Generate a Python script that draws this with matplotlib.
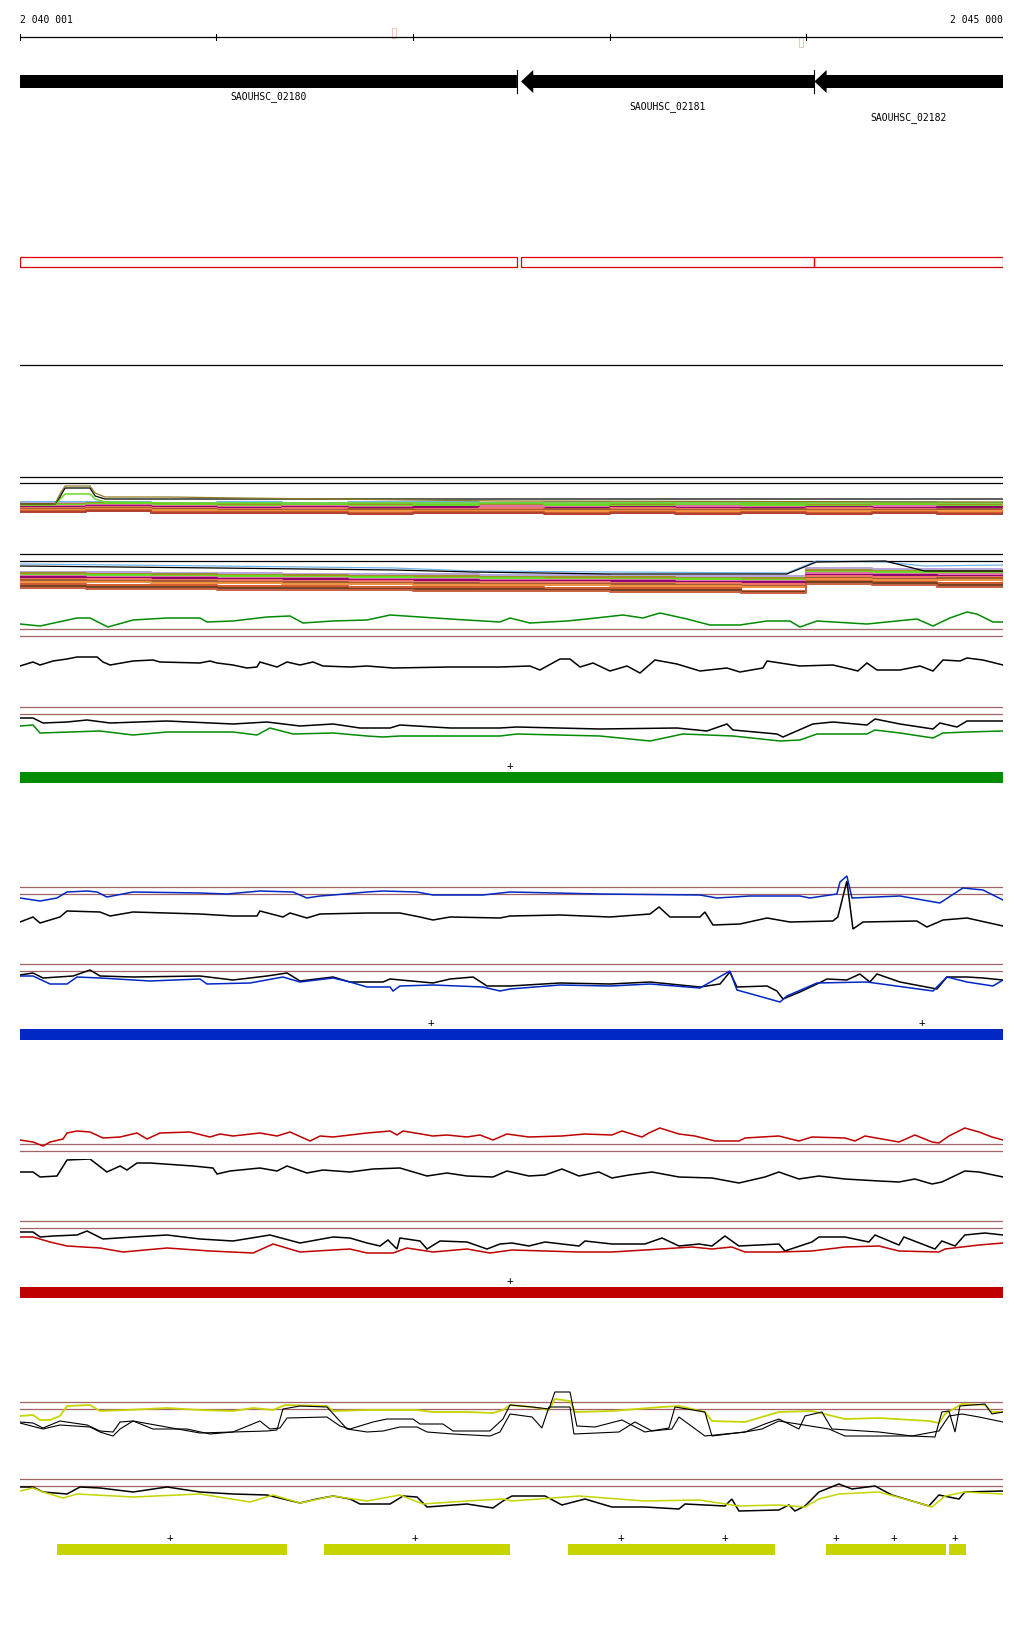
import numpy as np
import matplotlib.pyplot as plt
from matplotlib.patches import Polygon, Rectangle

# window shown (positions below are bp offsets from START)
START = 2040001
END = 2045000
SPAN = END - START

genes = ['SAOUHSC_02180', 'SAOUHSC_02181', 'SAOUHSC_02182']
gene_start = [-600, 2548, 4040]
gene_end = [2527, 4038, 5600]
tss_pos = [1902, 3974]
tss_strand = ['+', '-']

# --- multicolour tracks (step profiles on a coarse grid) ---
mc_pos = np.linspace(0, SPAN, 16)

a_bump_pos = [0, 178, 203, 229, 356, 382, 432, 763, 1119, 2441, 4999]
a_bump_olive = [15, 15, 25, 33, 33, 26, 22, 22, 21, 18, 17]
a_bump_black = [15, 15, 22, 31, 31, 23, 20, 20, 20, 20, 20]
a_bump_green = [14, 14, 20, 25, 25, 20, 17, 16, 16, 16, 16]

a_lightblue = [17, 17, 16, 17, 16, 17, 17, 16, 17, 16, 17, 16, 17, 17, 16, 17]
a_lavender = [16, 15, 16, 15, 15, 16, 15, 15, 16, 15, 16, 15, 16, 15, 16, 15]
a_olive = [15, 16, 15, 15, 14, 15, 14, 15, 14, 15, 14, 15, 14, 15, 14, 15]
a_green = [14, 15, 14, 13, 14, 13, 14, 13, 14, 13, 14, 14, 13, 14, 13, 14]
a_pink = [13, 14, 13, 12, 13, 12, 12, 13, 12, 12, 13, 12, 12, 13, 12, 13]
a_purple = [12, 13, 12, 11, 12, 11, 12, 11, 11, 12, 11, 11, 12, 11, 12, 11]
a_salmon = [11, 12, 11, 10, 11, 10, 10, 11, 10, 11, 10, 10, 11, 10, 10, 11]
a_brown = [10, 11, 10, 9, 9, 10, 9, 9, 10, 9, 9, 10, 9, 9, 10, 9]
a_orange = [9, 10, 9, 8, 8, 8, 8, 8, 8, 8, 8, 8, 8, 8, 8, 9]
a_rust = [8, 9, 7, 7, 7, 6, 7, 7, 6, 7, 6, 7, 6, 7, 6, 7]
a_darkred = [7, 8, 6, 6, 6, 5, 6, 6, 5, 6, 5, 6, 5, 6, 5, 6]

b_top_pos = [0, 1000, 1900, 2300, 3000, 3900, 4050, 4400, 4600, 4999]
b_lightblue = [35, 33, 31, 28, 27, 26, 38, 37, 33, 34]
b_black = [33, 31, 29, 27, 25, 25, 37, 38, 28, 28]
b_lavender = [27, 27, 26, 26, 25, 25, 25, 24, 24, 23, 23, 23, 31, 30, 30, 29]
b_olive = [26, 25, 25, 24, 24, 23, 23, 22, 22, 22, 21, 21, 29, 28, 28, 27]
b_green = [24, 24, 23, 23, 22, 22, 21, 21, 20, 20, 20, 19, 27, 27, 26, 26]
b_pink = [23, 22, 22, 21, 21, 20, 20, 19, 19, 19, 18, 18, 26, 25, 25, 24]
b_purple = [22, 21, 21, 20, 20, 19, 19, 18, 18, 18, 17, 17, 24, 24, 23, 23]
b_salmon = [20, 20, 19, 19, 18, 18, 17, 17, 17, 16, 16, 15, 23, 22, 22, 21]
b_brown = [19, 18, 18, 17, 17, 16, 16, 15, 15, 15, 14, 13, 21, 20, 21, 20]
b_orange = [17, 17, 16, 16, 15, 15, 14, 14, 14, 13, 13, 12, 20, 19, 19, 18]
b_rust = [15, 14, 14, 13, 13, 12, 12, 12, 11, 11, 11, 8, 18, 17, 16, 16]
b_darkbrown = [13, 12, 12, 11, 11, 10, 10, 10, 9, 9, 9, 7, 17, 16, 14, 14]
b_tan = [11, 10, 10, 9, 9, 9, 8, 8, 8, 7, 7, 6, 15, 14, 12, 12]

# --- green condition ---
g1_pos = [0, 102, 290, 356, 447, 575, 748, 915, 951, 1083, 1256, 1373, 1439, 1592, 1765, 1882, 2187, 2441, 2492, 2593,
          2781, 2883, 3066, 3168, 3254, 3392, 3509, 3661, 3799, 3915, 3966, 4053, 4307, 4561, 4643, 4729, 4816, 4866, 4948, 4999]
g1_green = [15, 13, 21, 21, 12, 19, 21, 21, 17, 18, 22, 23, 16, 18, 19, 24, 20, 17, 21, 16,
            18, 20, 24, 21, 26, 20, 14, 14, 18, 18, 12, 18, 15, 20, 13, 21, 27, 25, 17, 17]

g2_pos = [0, 66, 102, 168, 239, 290, 392, 422, 458, 575, 676, 712, 915, 966, 1002, 1083, 1154, 1205, 1220, 1307,
          1358, 1424, 1490, 1541, 1678, 1765, 1897, 2187, 2441, 2593, 2644, 2746, 2797, 2848, 2914, 3000, 3087, 3153, 3229, 3341,
          3458, 3595, 3661, 3778, 3799, 3966, 4134, 4221, 4261, 4307, 4358, 4475, 4577, 4643, 4694, 4780, 4816, 4897, 4999]
g2_black = [33, 37, 34, 38, 40, 42, 42, 37, 34, 38, 39, 37, 36, 38, 36, 34, 31, 32, 37, 32,
            37, 34, 37, 33, 32, 33, 31, 32, 32, 33, 29, 40, 40, 32, 36, 28, 33, 26, 39, 35,
            28, 31, 27, 31, 38, 33, 34, 30, 28, 36, 29, 29, 33, 28, 39, 38, 41, 39, 34]

g3_black_pos = [0, 66, 117, 239, 341, 458, 748, 1083, 1256, 1424, 1592, 1729, 1882, 1932, 2187, 2441, 2527, 2949, 3341, 3493,
                3595, 3626, 3849, 3880, 4032, 4134, 4307, 4348, 4475, 4643, 4678, 4765, 4816, 4999]
g3_black = [31, 31, 26, 27, 29, 26, 28, 25, 27, 23, 25, 21, 21, 24, 21, 21, 22, 20, 21, 18,
            25, 19, 15, 12, 25, 27, 24, 30, 25, 20, 26, 22, 28, 28]
g3_green_pos = [0, 66, 102, 407, 575, 748, 1083, 1205, 1271, 1388, 1592, 1765, 1846, 1932, 2187, 2441, 2527, 2949, 3204, 3371,
                3626, 3865, 3966, 4053, 4307, 4348, 4475, 4643, 4694, 4816, 4999]
g3_green = [23, 24, 16, 18, 14, 17, 17, 14, 21, 15, 16, 13, 12, 13, 13, 13, 15, 13, 8, 15,
            13, 8, 9, 15, 15, 19, 16, 11, 16, 17, 18]

# --- blue condition ---
b1_blue_pos = [0, 102, 188, 239, 341, 392, 442, 575, 915, 1053, 1220, 1388, 1459, 1526, 1592, 1765, 1846, 2019, 2100, 2354,
               2492, 2949, 3458, 3544, 3712, 3966, 4017, 4154, 4170, 4205, 4231, 4475, 4678, 4795, 4897, 4999]
b1_blue = [41, 38, 41, 47, 48, 47, 42, 47, 46, 45, 48, 47, 41, 43, 44, 47, 48, 47, 44, 44,
           47, 45, 44, 41, 43, 43, 41, 45, 57, 63, 41, 43, 36, 51, 49, 39]
b1_black_pos = [0, 66, 102, 203, 239, 407, 458, 575, 915, 1083, 1205, 1220, 1337, 1373, 1459, 1526, 1765, 1932, 2034, 2100,
                2187, 2441, 2492, 2746, 3000, 3204, 3250, 3305, 3458, 3483, 3524, 3661, 3799, 3915, 4134, 4159, 4205, 4236, 4287, 4561,
                4612, 4694, 4816, 4999]
b1_black = [17, 22, 16, 22, 28, 27, 23, 27, 25, 23, 23, 28, 22, 26, 21, 25, 26, 26, 22, 19,
            22, 21, 23, 24, 22, 25, 32, 22, 22, 27, 14, 15, 21, 17, 18, 22, 58, 10, 17, 18,
            12, 19, 21, 13]

b2_black_pos = [0, 66, 117, 270, 356, 407, 575, 915, 1083, 1256, 1358, 1424, 1592, 1678, 1846, 1882, 2100, 2187, 2304, 2375,
                2492, 2746, 3000, 3204, 3458, 3560, 3610, 3646, 3799, 3849, 3880, 3966, 4053, 4104, 4205, 4271, 4322, 4358, 4475, 4663,
                4714, 4816, 4897, 4999]
b2_black = [34, 36, 31, 33, 39, 33, 32, 33, 29, 33, 36, 28, 32, 27, 27, 30, 26, 30, 32, 23,
            23, 26, 25, 27, 22, 25, 37, 22, 23, 18, 10, 17, 25, 30, 29, 35, 27, 35, 27, 20,
            32, 32, 31, 29]
b2_blue_pos = [0, 66, 153, 239, 290, 407, 661, 915, 951, 1170, 1337, 1424, 1592, 1678, 1765, 1882, 1897, 1932, 2100, 2354,
               2441, 2492, 2746, 3000, 3204, 3458, 3610, 3646, 3865, 3900, 4053, 4307, 4643, 4714, 4816, 4948, 4999]
b2_blue = [33, 33, 25, 25, 32, 31, 28, 30, 25, 26, 32, 27, 31, 27, 22, 22, 18, 23, 24, 22,
           18, 20, 24, 23, 25, 21, 38, 19, 7, 13, 26, 27, 18, 32, 27, 23, 29]

# --- red condition ---
r1_pos = [0, 66, 117, 153, 219, 239, 290, 356, 422, 509, 595, 646, 712, 864, 966, 1017, 1083, 1220, 1307, 1373,
          1475, 1526, 1592, 1765, 1882, 1917, 1948, 2100, 2171, 2273, 2339, 2405, 2476, 2588, 2756, 2873, 3010, 3061, 3163, 3198,
          3254, 3351, 3432, 3534, 3656, 3687, 3859, 3961, 4027, 4195, 4246, 4297, 4470, 4551, 4638, 4673, 4724, 4805, 4877, 4943,
          4999]
r1_red = [19, 17, 13, 17, 20, 26, 28, 27, 21, 22, 26, 20, 26, 27, 22, 25, 23, 26, 23, 27,
          18, 23, 22, 26, 28, 24, 28, 23, 24, 22, 24, 19, 25, 22, 23, 25, 24, 28, 22, 26,
          31, 25, 23, 18, 18, 21, 23, 18, 22, 21, 18, 23, 17, 24, 17, 16, 23, 31, 27, 22,
          19]

r2_pos = [0, 66, 102, 188, 239, 356, 442, 509, 544, 595, 661, 880, 981, 1002, 1068, 1220, 1307, 1358, 1459, 1541,
          1678, 1795, 1932, 2070, 2171, 2273, 2405, 2476, 2588, 2670, 2756, 2843, 2944, 3010, 3097, 3214, 3351, 3519, 3656, 3788,
          3859, 3961, 4063, 4195, 4368, 4470, 4551, 4638, 4688, 4805, 4877, 4999]
r2_black = [27, 27, 22, 23, 39, 40, 27, 33, 29, 36, 36, 33, 31, 25, 28, 31, 28, 33, 26, 29,
            27, 30, 31, 23, 26, 23, 22, 28, 23, 24, 30, 23, 27, 21, 24, 27, 22, 21, 16, 22,
            27, 20, 23, 20, 18, 17, 20, 15, 17, 28, 27, 22]

r3_black_pos = [0, 66, 102, 168, 290, 341, 422, 575, 748, 915, 1083, 1271, 1424, 1592, 1678, 1765, 1831, 1871, 1917, 1932,
                2034, 2070, 2136, 2273, 2375, 2441, 2502, 2588, 2670, 2843, 2873, 3010, 3178, 3265, 3351, 3453, 3519, 3585, 3656, 3859,
                3890, 4027, 4063, 4195, 4317, 4348, 4470, 4495, 4653, 4688, 4755, 4805, 4907, 4999]
r3_black = [37, 37, 32, 33, 34, 38, 30, 32, 34, 30, 28, 34, 26, 32, 31, 26, 23, 29, 20, 31,
            28, 20, 28, 27, 20, 25, 26, 23, 27, 23, 28, 25, 25, 31, 23, 25, 23, 33, 23, 25,
            18, 27, 32, 32, 27, 34, 24, 32, 20, 28, 23, 34, 36, 34]
r3_red_pos = [0, 66, 153, 239, 407, 524, 748, 966, 1185, 1287, 1424, 1678, 1765, 1897, 1968, 2100, 2273, 2390, 2502, 2670,
              2843, 3010, 3178, 3417, 3519, 3620, 3687, 3859, 4027, 4195, 4368, 4470, 4673, 4704, 4877, 4999]
r3_red = [32, 32, 27, 23, 21, 17, 21, 18, 16, 25, 17, 20, 16, 16, 21, 17, 20, 16, 19, 18,
          17, 17, 19, 22, 20, 22, 17, 17, 18, 22, 23, 18, 17, 20, 24, 26]

# --- yellow condition ---
y1_yellow_pos = [0, 66, 102, 153, 203, 239, 356, 407, 544, 748, 915, 1083, 1185, 1287, 1348, 1561, 1592, 1765, 2019, 2100,
                 2273, 2405, 2456, 2492, 2604, 2690, 2720, 2797, 2822, 3010, 3265, 3351, 3483, 3519, 3687, 3859, 4027, 4195, 4368, 4622,
                 4673, 4704, 4790, 4907, 4943, 4999]
y1_yellow = [33, 34, 29, 29, 33, 43, 44, 38, 39, 41, 39, 38, 41, 39, 44, 43, 38, 39, 39, 37,
             37, 36, 39, 44, 42, 39, 50, 48, 37, 38, 42, 43, 37, 28, 27, 37, 38, 30, 31, 28,
             26, 35, 45, 44, 37, 37]
y1_black1_pos = [0, 66, 117, 203, 341, 407, 473, 509, 575, 676, 849, 966, 1083, 1220, 1271, 1322, 1358, 1561, 1627, 1678,
                 1795, 1866, 1998, 2034, 2151, 2202, 2390, 2456, 2492, 2604, 2690, 2720, 2797, 2832, 2924, 3061, 3178, 3300, 3331, 3483,
                 3519, 3687, 3788, 3859, 3961, 3992, 4078, 4129, 4368, 4536, 4653, 4688, 4724, 4755, 4780, 4907, 4943, 4999]
y1_black1 = [27, 26, 21, 28, 24, 18, 17, 27, 28, 20, 20, 15, 17, 28, 20, 21, 31, 32, 23, 20,
             27, 30, 30, 25, 25, 18, 18, 30, 44, 42, 40, 57, 57, 23, 22, 29, 17, 21, 42, 37,
             13, 17, 25, 30, 20, 33, 37, 20, 17, 13, 12, 37, 38, 17, 43, 45, 35, 37]
y1_black2_pos = [0, 117, 203, 356, 407, 473, 509, 575, 915, 1083, 1256, 1307, 1337, 1424, 1561, 1663, 1765, 1846, 1932, 2019,
                 2070, 2202, 2390, 2441, 2492, 2604, 2654, 2690, 2797, 2817, 3046, 3127, 3214, 3315, 3351, 3483, 3687, 3773, 3859, 4114,
                 4195, 4536, 4673, 4724, 4790, 4877, 4999]
y1_black2 = [26, 20, 24, 22, 17, 13, 20, 28, 16, 17, 18, 19, 40, 43, 42, 20, 17, 18, 22, 22,
             17, 15, 13, 17, 35, 32, 21, 42, 42, 15, 17, 27, 18, 20, 32, 13, 17, 20, 28, 20,
             13, 13, 18, 33, 35, 32, 27]

y2_black_pos = [0, 66, 117, 239, 305, 407, 575, 748, 915, 1083, 1256, 1424, 1510, 1592, 1678, 1729, 1882, 1948, 2019, 2070,
                2273, 2405, 2456, 2502, 2670, 2756, 2873, 3010, 3178, 3351, 3382, 3585, 3620, 3656, 3859, 3910, 3941, 3992, 4063, 4164,
                4231, 4348, 4434, 4622, 4673, 4775, 4805, 4999]
y2_black = [32, 32, 27, 25, 32, 31, 27, 32, 27, 25, 24, 16, 20, 23, 20, 15, 15, 23, 22, 12,
            15, 11, 18, 23, 23, 14, 20, 12, 12, 10, 15, 13, 20, 8, 9, 14, 8, 13, 27, 35,
            30, 33, 24, 13, 24, 20, 27, 28]
y2_yellow_pos = [0, 66, 117, 219, 290, 575, 915, 1170, 1287, 1424, 1592, 1765, 1932, 2049, 2273, 2456, 2502, 2843, 3178, 3453,
                 3656, 3859, 3992, 4063, 4164, 4368, 4536, 4638, 4704, 4805, 4999]
y2_yellow = [28, 31, 27, 21, 25, 22, 25, 17, 24, 16, 23, 18, 24, 15, 18, 20, 18, 23, 18, 19,
             13, 14, 12, 20, 25, 27, 18, 12, 23, 27, 25]

# --- feature rows ---
green_start, green_end, green_plus = [0], [SPAN], [2492]
blue_start, blue_end, blue_plus = [0], [SPAN], [2090, 4587]
red_start, red_end, red_plus = [0], [SPAN], [2492]
yellow_start = [188, 1546, 2787, 4099, 4724]
yellow_end = [1358, 2492, 3839, 4709, 4810]
yellow_plus = [763, 2009, 3056, 3585, 4149, 4444, 4755]

GREEN = '#008c00'
BLUE = '#0028c4'
RED = '#c00000'
YELLOW = '#c6d400'
REF = '#a06464'
MONO = 'DejaVu Sans Mono'

W, H = 1024, 1640
LEFT, RIGHT = 20, 1003
fig = plt.figure(figsize=(W / 100, H / 100), dpi=100)
fig.patch.set_facecolor('white')


def panel(top, bottom, invert=False):
    ax = fig.add_axes([LEFT / W, 1 - bottom / H, (RIGHT - LEFT) / W, (bottom - top) / H])
    ax.set_xlim(0, SPAN)
    if invert:
        ax.set_ylim(bottom - top, 0)
    else:
        ax.set_ylim(0, bottom - top)
    ax.axis('off')
    return ax


def trace(ax, pos, vals, color, lw=1.1):
    ax.plot(pos, vals, color=color, lw=lw, solid_joinstyle='miter')


def refs(ax, levels):
    for lv in levels:
        ax.axhline(lv, color=REF, lw=0.9)


def features(top, starts, ends, plus, color):
    ax = panel(top - 14, top + 11)
    ax.broken_barh([(s, e - s) for s, e in zip(starts, ends)], (0, 11), color=color, lw=0)
    for p in plus:
        ax.text(p, 18, '+', ha='center', va='center', fontsize=8, family=MONO)


# ruler, genes, outline boxes
top = panel(0, 400, invert=True)
top.text(0, 20, f'{START:,}'.replace(',', ' '), ha='left', va='center', fontsize=7, family=MONO)
top.text(SPAN, 20, f'{END:,}'.replace(',', ' '), ha='right', va='center', fontsize=7, family=MONO)
top.plot([0, SPAN], [38, 38], color='black', lw=0.9)
for t in [0, 999, 1999, 2999, 3999, SPAN]:
    top.plot([t, t], [35, 41], color='black', lw=0.8)
for p, s in zip(tss_pos, tss_strand):
    y0 = 29 if s == '+' else 38
    top.add_patch(Rectangle((p - 10, y0), 20, 10, fill=False, edgecolor='#f2c8bc', lw=0.8))

label_rows = [97, 107, 118]
for name, s, e, ly in zip(genes, gene_start, gene_end, label_rows):
    head = 62
    pts = [(s, 82.5), (s + head, 71), (s + head, 76), (e, 76), (e, 89), (s + head, 89), (s + head, 94)]
    top.add_patch(Polygon(pts, closed=True, facecolor='black', edgecolor='none'))
    top.plot([e, e], [71, 94], color='black', lw=0.8)
    vs, ve = max(s, 0), min(e, SPAN)
    top.text((vs + ve) / 2, ly, name, ha='center', va='center', fontsize=7, family=MONO)
    top.add_patch(Rectangle((vs, 258), ve - vs, 10, fill=False, edgecolor='#e00000', lw=0.9))
top.plot([0, SPAN], [366, 366], color='black', lw=0.9)

# multicolour track A
axA = panel(470, 520)
for lv in [42, 36]:
    axA.axhline(lv, color='black', lw=0.9)
a_lines = [(a_lightblue, '#70b4ec'), (a_lavender, '#b4a4dc'), (a_olive, '#a09024'), (a_green, '#64dc20'),
           (a_pink, '#e070a8'), (a_purple, '#8c0070'), (a_salmon, '#f07464'), (a_brown, '#a05a30'),
           (a_orange, '#f09040'), (a_rust, '#d0582c'), (a_darkred, '#b04030')]
for vals, c in a_lines:
    axA.plot(mc_pos, vals, color=c, lw=1.4, drawstyle='steps-post')
axA.plot(a_bump_pos, a_bump_green, color='#64dc20', lw=1.1)
axA.plot(a_bump_pos, a_bump_black, color='black', lw=0.9)
axA.plot(a_bump_pos, a_bump_olive, color='#8c7c20', lw=0.9)

# multicolour track B
axB = panel(540, 600)
for lv in [45, 38]:
    axB.axhline(lv, color='black', lw=0.9)
b_lines = [(b_lavender, '#b4a4dc'), (b_olive, '#a09024'), (b_green, '#64dc20'), (b_pink, '#e070a8'),
           (b_purple, '#8c0070'), (b_salmon, '#f07464'), (b_brown, '#a05a30'), (b_orange, '#f09040'),
           (b_rust, '#d0582c'), (b_darkbrown, '#704020'), (b_tan, '#c86040')]
for vals, c in b_lines:
    axB.plot(mc_pos, vals, color=c, lw=1.4, drawstyle='steps-post')
axB.plot(b_top_pos, b_lightblue, color='#70b4ec', lw=0.9)
axB.plot(b_top_pos, b_black, color='black', lw=0.9)

# green condition
ax = panel(600, 640)
refs(ax, [10, 3])
trace(ax, g1_pos, g1_green, GREEN)
ax = panel(640, 700)
trace(ax, g2_pos, g2_black, 'black')
ax = panel(700, 750)
refs(ax, [42, 35])
trace(ax, g3_black_pos, g3_black, 'black')
trace(ax, g3_green_pos, g3_green, GREEN)
features(773, green_start, green_end, green_plus, GREEN)

# blue condition
ax = panel(870, 940)
refs(ax, [52, 45])
trace(ax, b1_black_pos, b1_black, 'black')
trace(ax, b1_blue_pos, b1_blue, BLUE)
ax = panel(950, 1010)
refs(ax, [45, 38])
trace(ax, b2_black_pos, b2_black, 'black')
trace(ax, b2_blue_pos, b2_blue, BLUE)
features(1030, blue_start, blue_end, blue_plus, BLUE)

# red condition
ax = panel(1120, 1160)
refs(ax, [15, 8])
trace(ax, r1_pos, r1_red, RED)
ax = panel(1160, 1200)
trace(ax, r2_pos, r2_black, 'black')
ax = panel(1210, 1270)
refs(ax, [48, 41])
trace(ax, r3_black_pos, r3_black, 'black')
trace(ax, r3_red_pos, r3_red, RED)
features(1288, red_start, red_end, red_plus, RED)

# yellow condition
ax = panel(1390, 1450)
refs(ax, [47, 40])
trace(ax, y1_yellow_pos, y1_yellow, YELLOW, lw=1.3)
trace(ax, y1_black1_pos, y1_black1, 'black', lw=0.8)
trace(ax, y1_black2_pos, y1_black2, 'black', lw=0.8)
ax = panel(1470, 1520)
refs(ax, [40, 33])
trace(ax, y2_black_pos, y2_black, 'black')
trace(ax, y2_yellow_pos, y2_yellow, YELLOW)
features(1545, yellow_start, yellow_end, yellow_plus, YELLOW)

fig.savefig('out.png', dpi=100, facecolor='white')
